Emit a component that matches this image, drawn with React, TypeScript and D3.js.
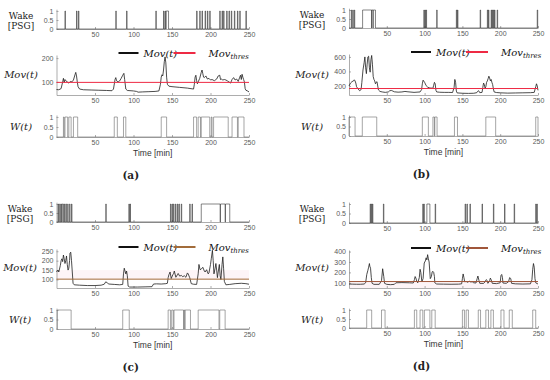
import React, { useRef, useEffect } from 'react';
import * as d3 from 'd3';

type Interval = [number, number];
type Pt = [number, number];

const TIME_TICKS = [50, 100, 150, 200, 250];
const BIN_TICKS = [0, 0.5, 1];

// ---- panel (a)
const wakeA: Interval[] = [[11, 11.6], [26, 26.6], [28.5, 29.1], [77, 77.6], [91, 91.6], [129, 129.6], [139, 139.6], [141, 141.6], [142.5, 145.5], [182, 182.6], [186, 186.6], [189, 189.6], [193, 193.6], [196, 196.6], [199, 199.6], [212, 212.6], [215, 215.6], [217, 217.6], [221, 221.6], [224, 224.6], [227, 227.6], [231, 231.6], [235, 235.6], [238, 238.6], [246, 246.6]];
const wA: Interval[] = [[9, 10], [11, 14.5], [16, 19], [22, 27.5], [75, 79], [87, 90], [136, 143], [178, 182], [184, 187], [188, 199], [201, 202], [204, 223], [228, 235], [236, 243.5]];
const movA: Pt[] = [[0, 68], [3, 67], [6, 72], [8, 100], [9, 115], [10, 98], [11, 110], [12, 105], [14, 100], [16, 95], [18, 102], [20, 100], [22, 108], [24, 130], [25, 140], [26, 125], [27, 100], [28, 80], [30, 70], [35, 67], [45, 66], [55, 65], [65, 64], [72, 63], [74, 70], [76, 110], [77, 118], [78, 105], [80, 100], [82, 104], [84, 115], [86, 128], [87.5, 136], [88.5, 110], [90, 70], [92, 64], [100, 62], [104, 60], [106, 57], [112, 58], [120, 59], [128, 60], [133, 62], [135, 90], [136, 120], [137, 130], [138, 125], [139, 150], [140, 185], [141, 205], [142, 180], [143, 120], [144, 90], [146, 82], [150, 80], [160, 77], [170, 74], [178, 70], [179, 90], [180, 120], [181, 128], [182, 105], [183, 92], [184, 100], [186, 115], [188, 140], [189, 150], [190, 135], [191, 120], [192, 118], [194, 125], [196, 112], [198, 115], [200, 108], [202, 110], [205, 105], [208, 112], [210, 125], [212, 128], [213, 110], [214, 112], [216, 108], [218, 110], [220, 108], [222, 104], [224, 100], [226, 95], [228, 110], [230, 118], [232, 108], [234, 112], [236, 102], [238, 120], [239, 128], [240, 110], [241, 132], [242, 120], [243, 110], [244, 100], [245, 72], [246, 65], [248, 62], [250, 58]];
const thresA = 98;

// ---- panel (b)
const wakeB: Interval[] = [[3, 3.6], [5, 5.6], [7, 7.6], [18, 29.8], [30, 31.8], [32, 35], [99, 99.6], [100.5, 101.1], [102, 102.6], [116, 116.6], [142, 142.6], [143.5, 144.1], [173.5, 174.1], [183, 183.6], [184.5, 185.1], [188, 188.6], [189.5, 190.1], [191, 191.6], [192.5, 193.1], [196, 196.6], [249, 249.6]];
const wB: Interval[] = [[0, 8], [17.6, 36.7], [97, 105], [111, 113], [113.5, 116.5], [139.5, 143.5], [181, 194], [247, 250]];
const movB: Pt[] = [[0, 200], [2, 240], [4, 260], [6, 270], [7, 285], [8, 270], [9, 240], [10, 190], [12, 160], [14, 135], [16, 150], [17, 250], [18.5, 420], [20, 520], [21, 600], [22, 450], [23, 370], [24, 500], [25, 600], [26, 610], [27, 450], [28, 390], [29, 560], [30, 620], [31, 500], [32, 330], [33, 290], [34, 270], [35, 230], [36, 250], [37, 260], [38, 200], [39, 145], [41, 125], [44, 118], [48, 112], [52, 118], [54, 135], [56, 138], [58, 130], [60, 120], [65, 115], [70, 118], [74, 125], [78, 120], [82, 116], [86, 112], [90, 115], [94, 118], [96, 150], [97, 230], [98, 280], [100, 250], [102, 205], [104, 185], [106, 175], [108, 172], [110, 170], [111, 168], [112, 210], [113, 250], [114, 230], [115, 140], [116, 118], [120, 114], [126, 112], [132, 112], [137, 110], [139, 180], [140, 290], [141, 250], [142, 130], [143, 105], [150, 100], [158, 98], [165, 100], [169, 108], [170, 125], [171.5, 135], [173, 108], [176, 112], [177, 180], [178, 240], [179, 220], [180, 170], [181, 190], [182, 250], [183, 270], [184, 300], [185, 335], [186, 310], [187, 270], [188, 290], [189, 250], [190, 220], [191, 160], [192, 118], [195, 110], [200, 106], [210, 102], [220, 104], [230, 106], [240, 108], [245, 112], [247, 190], [248, 230], [249, 200], [250, 140]];
const thresB = 165;

// ---- panel (c)
const wakeC: Interval[] = [[2, 2.6], [4, 5], [6, 6.6], [7.5, 9], [10, 10.6], [12, 13], [14.5, 15.1], [17, 17.6], [19.5, 20.1], [64, 64.6], [94, 94.6], [95.5, 96.1], [148, 148.6], [150, 150.6], [152, 152.6], [154.5, 155.1], [157, 157.6], [159, 159.6], [162, 162.6], [173, 173.6], [176, 176.6], [188, 212.5], [213, 219], [219.5, 225]];
const wC: Interval[] = [[1, 19], [86, 94.5], [145, 148], [149.6, 151.7], [152.6, 165], [165.5, 166.5], [167, 174], [184, 211], [212, 219]];
const movC: Pt[] = [[0, 140], [2, 150], [3, 140], [5, 175], [6, 200], [7, 210], [8, 195], [9, 230], [10, 210], [11, 185], [12, 200], [13, 225], [14, 180], [15, 150], [16, 160], [17, 200], [17.5, 240], [18.5, 245], [19.5, 200], [20.5, 140], [21.5, 80], [23, 72], [30, 70], [40, 68], [50, 68], [58, 70], [62, 75], [64, 88], [66, 82], [68, 76], [75, 74], [82, 72], [86, 74], [87, 130], [88, 160], [89, 145], [90, 130], [91, 145], [92, 120], [93, 65], [95, 60], [105, 60], [115, 61], [124, 62], [126, 76], [130, 77], [136, 76], [142, 78], [144, 80], [145, 110], [146, 125], [147.5, 140], [149, 105], [151, 125], [152, 130], [153, 145], [155, 112], [157, 125], [158, 132], [160, 118], [162, 122], [164, 115], [166, 120], [168, 112], [170, 135], [171, 130], [173, 110], [175, 78], [178, 75], [182, 74], [184, 130], [185, 180], [186.5, 152], [188, 155], [190, 165], [192, 145], [193, 140], [195, 152], [196, 140], [197, 130], [198, 135], [200, 180], [201, 210], [202.5, 255], [203.5, 200], [204.5, 130], [206, 160], [207, 185], [208, 150], [209, 110], [210, 140], [211.5, 180], [212.5, 120], [213.5, 100], [215, 180], [216, 220], [217, 160], [218, 90], [220, 72], [225, 74], [232, 78], [240, 80], [246, 78], [250, 75]];
const thresC = 102;

// ---- panel (d)
const wakeD: Interval[] = [[28, 28.6], [29.5, 30.1], [31, 31.6], [45.5, 46.1], [97.6, 98.2], [99, 99.6], [103, 107], [114, 114.6], [153.6, 154.2], [156, 156.6], [160, 160.6], [176, 176.6], [191, 191.6], [205.7, 206.3], [218.5, 219.1], [247, 247.6], [248.5, 249.1]];
const wD: Interval[] = [[23.4, 30], [43, 47.7], [86.5, 89.6], [94, 97.6], [99.7, 107], [109.5, 114], [150, 152.7], [155, 158], [171, 174], [181, 184.5], [187.7, 191], [201, 205], [212, 216], [243, 247]];
const movD: Pt[] = [[0, 88], [5, 87], [10, 86], [15, 86], [20, 88], [22, 100], [23.5, 180], [25, 220], [26, 250], [27, 285], [27.5, 260], [28.5, 240], [29.5, 150], [30.5, 95], [33, 85], [40, 85], [43, 120], [44.5, 235], [46, 160], [47, 95], [50, 85], [55, 82], [60, 85], [62, 100], [70, 102], [80, 100], [85, 98], [86.5, 130], [87.5, 160], [88.5, 145], [89.8, 110], [91, 100], [93, 150], [94, 230], [95, 200], [96.4, 110], [98, 140], [99.5, 290], [101, 310], [102, 340], [103, 320], [104, 370], [105, 330], [106, 300], [107.5, 140], [109, 160], [110, 205], [111, 210], [112, 200], [113, 160], [113.5, 100], [116, 88], [125, 87], [135, 86], [145, 87], [149, 90], [150, 140], [151, 185], [152, 150], [153, 110], [155, 112], [157, 105], [159, 115], [161, 108], [163, 110], [165, 100], [168, 98], [169.5, 140], [170.5, 165], [172, 120], [173, 95], [178, 94], [180, 110], [181.5, 130], [183, 120], [183.7, 95], [186, 120], [187, 145], [188, 130], [189.5, 95], [195, 92], [200, 100], [201, 170], [202, 180], [203, 150], [203.6, 98], [208, 95], [211, 110], [212.5, 150], [214, 140], [215, 95], [220, 90], [230, 88], [240, 90], [242, 130], [243, 230], [244, 285], [245, 250], [246, 140], [247, 100], [249, 92], [250, 90]];
const thresD = 112;

interface PanelSpec {
  letter: string;
  wake: Interval[];
  w: Interval[];
  mov: Pt[];
  thres: number;
  thresColor: string;
  movTicks: number[];
  movDomain: [number, number];
  x0: number; x1: number;   // pixel ends of time axis
  wakeY: [number, number];  // pixel of 0 and 1
  movY: [number, number];   // pixel of bottom and top
  wY: [number, number];
  labelX: number;
  band?: [number, number];
}

const PANELS: PanelSpec[] = [
  { letter: 'a', wake: wakeA, w: wA, mov: movA, thres: thresA, thresColor: '#ee2a44', movTicks: [100, 200], movDomain: [45, 213],
    x0: 56.5, x1: 249, wakeY: [29, 11], movY: [95, 55], wY: [137, 117], labelX: 21 },
  { letter: 'b', wake: wakeB, w: wB, mov: movB, thres: thresB, thresColor: '#ee2a44', movTicks: [200, 400, 600], movDomain: [76, 640],
    x0: 349, x1: 538, wakeY: [28, 10], movY: [95, 54], wY: [136, 117], labelX: 312 },
  { letter: 'c', wake: wakeC, w: wC, mov: movC, thres: thresC, thresColor: '#a26c3a', movTicks: [100, 150, 200, 250], movDomain: [55, 262],
    x0: 56.5, x1: 249, wakeY: [222, 204], movY: [288, 249], wY: [329, 310], labelX: 20, band: [100, 150] },
  { letter: 'd', wake: wakeD, w: wD, mov: movD, thres: thresD, thresColor: '#a0563a', movTicks: [100, 200, 300, 400], movDomain: [50, 415],
    x0: 349, x1: 538, wakeY: [223, 204], movY: [288, 250], wY: [328, 310], labelX: 312, band: [50, 112] },
];

const stepPoints = (iv: Interval[]): Pt[] => {
  const pts: Pt[] = [[0, 0]];
  iv.forEach(([s, e]) => { pts.push([s, 0], [s, 1], [e, 1], [e, 0]); });
  pts.push([250, 0]);
  return pts;
};

const styleAxis = (g: d3.Selection<SVGGElement, unknown, null, undefined>) => {
  g.attr('font-family', 'Liberation Sans, Arial, sans-serif').attr('font-size', 7);
  g.selectAll('.domain, .tick line').attr('stroke', '#8a8a8a').attr('stroke-width', 0.7);
  g.selectAll('.tick text').attr('fill', '#5a5a5a');
};

export default function App() {
  const ref = useRef<SVGSVGElement | null>(null);

  useEffect(() => {
    if (!ref.current) return;
    const svg = d3.select(ref.current);
    svg.selectAll('*').remove();

    PANELS.forEach(p => {
      const g = svg.append('g');
      const x = d3.scaleLinear().domain([0, 250]).range([p.x0, p.x1]);
      const binScale = (pix: [number, number]) => {
        const s = d3.scaleLinear().domain([0, 1]).range(pix);
        return d3.scaleLinear().domain([0, 1.1]).range([s(0), s(1.1)]);
      };
      const yWake = binScale(p.wakeY);
      const yW = binScale(p.wY);
      const yMov = d3.scaleLinear().domain(p.movDomain).range(p.movY);

      const axes = (y: d3.ScaleLinear<number, number>, ticks: number[]) => {
        const bx = g.append('g')
          .attr('transform', `translate(0,${y.range()[0]})`)
          .call(d3.axisBottom(x).tickValues(TIME_TICKS).tickSizeInner(-2).tickSizeOuter(0).tickPadding(3));
        styleAxis(bx);
        const ly = g.append('g')
          .attr('transform', `translate(${p.x0},0)`)
          .call(d3.axisLeft(y).tickValues(ticks).tickSizeInner(-2).tickSizeOuter(0).tickPadding(3).tickFormat(d => String(d)));
        styleAxis(ly);
      };

      const stepLine = d3.line<Pt>().x(d => x(d[0]));

      // Wake [PSG]
      axes(yWake, BIN_TICKS);
      g.append('path').datum(stepPoints(p.wake))
        .attr('fill', 'none').attr('stroke', '#333').attr('stroke-width', 0.6)
        .attr('d', stepLine.y(d => yWake(d[1])));

      // Mov(t)
      if (p.band) {
        g.append('rect')
          .attr('x', p.x0).attr('width', p.x1 - p.x0)
          .attr('y', yMov(p.band[1])).attr('height', yMov(p.band[0]) - yMov(p.band[1]))
          .attr('fill', '#fdf4f7');
      }
      axes(yMov, p.movTicks);
      const movLine = d3.line<Pt>().x(d => x(d[0])).y(d => yMov(d[1]));
      g.append('path').datum(p.mov)
        .attr('fill', 'none').attr('stroke', '#1e1e1e').attr('stroke-width', 0.8)
        .attr('d', movLine);
      g.append('line')
        .attr('x1', x(0)).attr('x2', x(250))
        .attr('y1', yMov(p.thres)).attr('y2', yMov(p.thres))
        .attr('stroke', p.thresColor).attr('stroke-width', 1);

      // W(t)
      axes(yW, BIN_TICKS);
      g.append('path').datum(stepPoints(p.w))
        .attr('fill', 'none').attr('stroke', '#6a6a6a').attr('stroke-width', 0.6)
        .attr('d', stepLine.y(d => yW(d[1])));

      // legend
      const ly = p.movY[1] - 2;
      const lx = p.x0 + 62;
      g.append('line').attr('x1', lx).attr('x2', lx + 20).attr('y1', ly).attr('y2', ly)
        .attr('stroke', '#111').attr('stroke-width', 2);
      g.append('text').attr('x', lx + 25).attr('y', ly + 3.5)
        .attr('font-family', 'DejaVu Serif, serif').attr('font-style', 'italic').attr('font-size', 10)
        .attr('fill', '#111').text('Mov(t)');
      g.append('line').attr('x1', lx + 55).attr('x2', lx + 77).attr('y1', ly).attr('y2', ly)
        .attr('stroke', p.thresColor).attr('stroke-width', 2);
      const t2 = g.append('text').attr('x', lx + 90).attr('y', ly + 3.5)
        .attr('font-family', 'DejaVu Serif, serif').attr('font-style', 'italic').attr('font-size', 10)
        .attr('fill', '#111');
      t2.append('tspan').text('Mov');
      t2.append('tspan').attr('font-size', 7).attr('dy', 2.5).text('thres');

      // row labels
      const serif = (txt: string, y: number, italic = false, size = 9.5) =>
        g.append('text').attr('x', p.labelX).attr('y', y).attr('text-anchor', 'middle')
          .attr('font-family', 'DejaVu Serif, serif').attr('font-size', size)
          .attr('font-style', italic ? 'italic' : 'normal').attr('fill', '#222').text(txt);
      serif('Wake', p.wakeY[1] + 7.5, false, 9);
      serif('[PSG]', p.wakeY[1] + 17.5, false, 9);
      serif('Mov(t)', p.movY[0] - 17.5, true, 10);
      serif('W(t)', p.wY[1] + 13, true, 10);

      // x label and panel letter
      g.append('text').attr('x', (p.x0 + p.x1) / 2).attr('y', p.wY[0] + 18.5)
        .attr('text-anchor', 'middle').attr('font-family', 'Liberation Sans, Arial, sans-serif')
        .attr('font-size', 8.5).attr('fill', '#333').text('Time [min]');
      g.append('text').attr('x', (p.x0 + p.x1) / 2 - 22).attr('y', p.wY[0] + 42)
        .attr('text-anchor', 'middle').attr('font-family', 'DejaVu Serif, serif')
        .attr('font-weight', 'bold').attr('font-size', 10.5).attr('fill', '#222').text(`(${p.letter})`);
    });
  }, []);

  return (
    <svg ref={ref} width={550} height={380}
      style={{ position: 'absolute', left: 0, top: 0, background: '#fff' }} />
  );
}
